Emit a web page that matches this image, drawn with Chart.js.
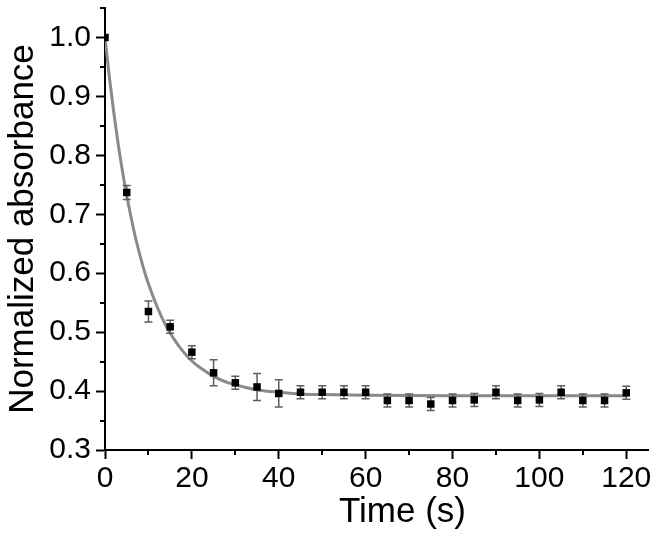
<!DOCTYPE html>
<html><head><meta charset="utf-8">
<script src="https://cdn.jsdelivr.net/npm/chart.js@4/dist/chart.umd.min.js"></script>
<style>html,body{margin:0;padding:0;background:#fff}canvas{display:block}</style>
</head><body>
<canvas id="c" width="663" height="544"></canvas>
<script>
// ---- data ----
const timeValues = [0,5,10,15,20,25,30,35,40,45,50,55,60,65,70,75,80,85,90,95,100,105,110,115,120];
const absorbance = [1.000,0.737,0.535,0.509,0.466,0.431,0.414,0.407,0.396,0.398,0.398,0.398,0.398,0.384,0.384,0.378,0.384,0.385,0.398,0.384,0.385,0.398,0.384,0.384,0.397];
const absorbanceError = [0.000,0.012,0.018,0.011,0.011,0.022,0.011,0.023,0.023,0.011,0.011,0.011,0.011,0.011,0.011,0.011,0.011,0.011,0.011,0.011,0.011,0.011,0.011,0.011,0.011];
const fitTime = [0,1,2,3,4,5,6,7,8,9,10,12,14,16,18,20,22,25,28,30,32,36,40,45,50,60,80,100,120];
const fitValues = [1.000,0.933,0.874,0.821,0.774,0.732,0.695,0.661,0.632,0.605,0.582,0.543,0.511,0.487,0.467,0.451,0.439,0.425,0.415,0.411,0.407,0.401,0.398,0.395,0.394,0.393,0.392,0.392,0.392];
const xTickValues = [0,20,40,60,80,100,120];
const xMinorTicks = [10,30,50,70,90,110];
const yTickValues = [0.3,0.4,0.5,0.6,0.7,0.8,0.9,1.0];
const yMinorTicks = [0.35,0.45,0.55,0.65,0.75,0.85,0.95,1.05];
const xTitle = 'Time (s)';
const yTitle = 'Normalized absorbance';

const FONT = '"Liberation Sans", Arial, Helvetica, sans-serif';

const errorBars = {
  id: 'errorBars',
  beforeDatasetDraw(chart, args) {
    if (args.index !== 1) return;
    const {ctx, scales: {x, y}} = chart;
    ctx.save();
    ctx.strokeStyle = '#5e5e5e';
    ctx.lineWidth = 1.5;
    ctx.beginPath();
    timeValues.forEach((t, i) => {
      const e = absorbanceError[i];
      if (!e) return;
      const px = x.getPixelForValue(t);
      const top = y.getPixelForValue(absorbance[i] + e);
      const bot = y.getPixelForValue(absorbance[i] - e);
      ctx.moveTo(px, top); ctx.lineTo(px, bot);
      ctx.moveTo(px - 4, top); ctx.lineTo(px + 4, top);
      ctx.moveTo(px - 4, bot); ctx.lineTo(px + 4, bot);
    });
    ctx.stroke();
    ctx.restore();
  }
};

const axisExtras = {
  id: 'axisExtras',
  afterDraw(chart) {
    const {ctx, scales: {x, y}} = chart;
    ctx.save();
    ctx.strokeStyle = '#000';
    ctx.lineWidth = 2;
    ctx.beginPath();
    xMinorTicks.forEach(v => {
      const px = Math.round(x.getPixelForValue(v));
      ctx.moveTo(px, x.top); ctx.lineTo(px, x.top + 5);
    });
    yMinorTicks.forEach(v => {
      const py = Math.round(y.getPixelForValue(v));
      ctx.moveTo(y.right, py); ctx.lineTo(y.right - 5, py);
    });
    ctx.stroke();
    ctx.fillStyle = '#000';
    ctx.font = '35px ' + FONT;
    ctx.textAlign = 'center';
    ctx.textBaseline = 'middle';
    ctx.fillText(xTitle, (x.left + x.right) / 2 + 26, x.bottom - 32);
    ctx.restore();
  }
};

new Chart(document.getElementById('c'), {
  type: 'scatter',
  data: {
    datasets: [
      {
        type: 'line',
        label: 'fit',
        data: fitTime.map((t, i) => ({x: t, y: fitValues[i]})),
        borderColor: '#8a8a8a',
        borderWidth: 3,
        pointRadius: 0,
        cubicInterpolationMode: 'monotone',
        fill: false,
        order: 2
      },
      {
        label: 'data',
        data: timeValues.map((t, i) => ({x: t, y: absorbance[i]})),
        pointStyle: 'rect',
        pointRadius: 5.3,
        backgroundColor: '#000',
        borderColor: '#000',
        borderWidth: 0,
        order: 1
      }
    ]
  },
  options: {
    responsive: false,
    animation: false,
    events: [],
    layout: {padding: {top: 8, right: 15, left: 0, bottom: 0}},
    plugins: {legend: {display: false}, tooltip: {enabled: false}},
    scales: {
      x: {
        type: 'linear',
        min: 0, max: 125,
        afterBuildTicks: s => { s.ticks = xTickValues.map(v => ({value: v})); },
        afterFit: s => { s.height = 94; s.paddingLeft = 0; s.paddingRight = 0; },
        border: {display: true, color: '#000', width: 2},
        grid: {display: true, drawOnChartArea: false, drawTicks: true, tickLength: 9, tickColor: '#000', tickWidth: 2},
        ticks: {autoSkip: false, maxRotation: 0, color: '#000', padding: 2, font: {family: FONT, size: 30}},
        title: {display: false}
      },
      y: {
        type: 'linear',
        min: 0.3, max: 1.05,
        afterBuildTicks: s => { s.ticks = yTickValues.map(v => ({value: v})); },
        afterFit: s => { s.width = 105; s.paddingTop = 0; s.paddingBottom = 0; },
        border: {display: true, color: '#000', width: 2},
        grid: {display: true, drawOnChartArea: false, drawTicks: true, tickLength: 9, tickColor: '#000', tickWidth: 2},
        ticks: {autoSkip: false, color: '#000', padding: 5, font: {family: FONT, size: 30},
          callback: v => Number(v).toFixed(1)},
        title: {display: true, text: yTitle, color: '#000', font: {family: FONT, size: 35}, padding: {top: 2, bottom: 0}}
      }
    }
  },
  plugins: [errorBars, axisExtras]
});
</script>
</body></html>
